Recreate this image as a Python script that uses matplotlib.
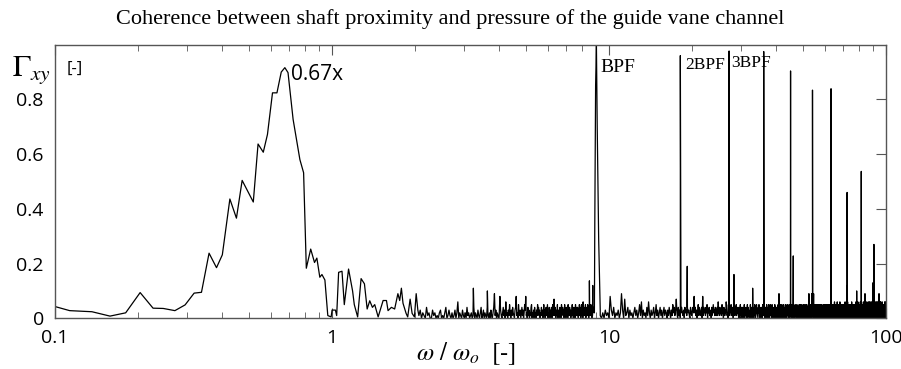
import numpy as np
import matplotlib
matplotlib.use('Agg')
import matplotlib.pyplot as plt

plt.rcParams['mathtext.fontset'] = 'stix'

# low frequency part, read point by point (w/w0, coherence)
low_w = [0.100, 0.113, 0.136, 0.158, 0.180, 0.203, 0.226, 0.246, 0.271, 0.295,
         0.318, 0.338, 0.360, 0.383, 0.402, 0.428, 0.452, 0.474, 0.520, 0.541,
         0.565, 0.585, 0.610, 0.633, 0.656, 0.676, 0.694, 0.724, 0.766, 0.790,
         0.808, 0.838, 0.865, 0.882, 0.904, 0.920, 0.943, 0.966, 0.993, 1.001,
         1.029, 1.040, 1.057, 1.087, 1.108, 1.148, 1.187, 1.204, 1.238, 1.274,
         1.310, 1.340, 1.369, 1.400, 1.427, 1.468, 1.530, 1.573, 1.594, 1.639,
         1.684, 1.730, 1.756, 1.781, 1.805, 1.852, 1.877, 1.915, 1.947, 1.985,
         2.014, 2.042]
low_g = [0.043, 0.028, 0.024, 0.008, 0.020, 0.094, 0.037, 0.036, 0.028, 0.049,
         0.092, 0.095, 0.238, 0.185, 0.232, 0.436, 0.366, 0.504, 0.425, 0.637,
         0.607, 0.672, 0.824, 0.824, 0.900, 0.916, 0.898, 0.727, 0.580, 0.532,
         0.183, 0.253, 0.204, 0.220, 0.150, 0.160, 0.140, 0.010, 0.005, 0.030,
         0.030, 0.010, 0.168, 0.172, 0.050, 0.180, 0.100, 0.050, 0.005, 0.145,
         0.126, 0.034, 0.064, 0.040, 0.050, 0.005, 0.065, 0.065, 0.028, 0.040,
         0.034, 0.090, 0.065, 0.110, 0.055, 0.018, 0.005, 0.070, 0.018, 0.005,
         0.090, 0.030]

# broadband floor, one digit per bin = coherence in hundredths
floor_a_start, floor_a_step = 2.06, 0.0225
floor_a = ("13021041200312010230102401310201302602103102041201"
           "20140210310240130210410203102491302102831024130612"
           "03152031421034812052130241302538120413021450213042"
           "20315241302141302513024135021420314025137214032150"
           "31204130522413025130421305132413021351402413052134"
           "14203152430251430621324150241325130423153142051324")
floor_b_start, floor_b_step = 9.3, 0.1
floor_b = ("10203120831402130293071240312024130251603120416203"
           "12402513024130241320314203152413720413024213042314"
           "23104213428241302514312408142314250324132041352314"
           "31241624132415230421326412053214253142032314251324"
           "30410521402403150314130504231025031405320415301253"
           "21042530413024105214250142035210405130253142051403"
           "24035140324103150493140530415024035143023501402514"
           "24015041353104250142503140251424035102314105230452"
           "30425314042501432504320513041325109340153405104925"
           "31405920352403504351405310253410524035143405130243"
           "25041023534105243502530415042531025302414052403523"
           "24051405361504350413405362410535041035262405340535"
           "43051035242503150436314053405352036150434052403504"
           "35043504164053102535240520315253025360413504150426"
           "40535041532405263504530240535240505362413504253902"
           "52035360453504150426405250263520536041535302635043"
           "40536043543506203536240530236453025360453504635203"
           "49052405362405605343520453604535042035344052506243"
           "52036254")

# blade passing frequency and its harmonics
bpf_w = [8.86, 8.89, 8.95, 9.01, 9.07, 9.18, 9.30]
bpf_g = [0.02, 0.35, 0.85, 1.00, 0.70, 0.29, 0.03]
harm_w = [18.1, 27.15, 36.2, 45.25, 54.3, 63.35, 72.4, 81.45, 90.5]
harm_g = [0.960, 0.977, 0.975, 0.904, 0.834, 0.839, 0.460, 0.537, 0.270]

# other isolated spikes
spike_w = [3.24, 3.64, 8.50, 8.74, 19.17, 28.27, 33.02, 46.28, 72.55, 78.4, 89.8]
spike_g = [0.110, 0.100, 0.137, 0.120, 0.190, 0.160, 0.110, 0.228, 0.120, 0.100, 0.130]

wa = floor_a_start + floor_a_step * np.arange(len(floor_a))
ga = np.array([int(c) for c in floor_a]) * 0.01
wb = floor_b_start + floor_b_step * np.arange(len(floor_b))
gb = np.array([int(c) for c in floor_b]) * 0.01

w = np.concatenate([low_w, wa, bpf_w, wb, harm_w, spike_w])
g = np.concatenate([low_g, ga, bpf_g, gb, harm_g, spike_g])
order = np.argsort(w, kind='stable')
w, g = w[order], g[order]

fig = plt.figure(figsize=(9.01, 3.69), dpi=100)
ax = fig.add_axes([0.0610, 0.1374, 0.9223, 0.7415])
ax.plot(w, g, color='black', linewidth=0.9)

ax.set_xscale('log')
ax.set_xlim(0.1, 100)
ax.set_ylim(0, 1.0)
ax.set_xticks([0.1, 1, 10, 100])
ax.set_xticklabels(['0.1', '1', '10', '100'])
ax.set_yticks([0, 0.2, 0.4, 0.6, 0.8])
ax.set_yticklabels(['0', '0.2', '0.4', '0.6', '0.8'])

tick_font = 'Open Sans'
for lab in ax.get_xticklabels() + ax.get_yticklabels():
    lab.set_fontfamily(tick_font)
    lab.set_fontsize(14)

ax.tick_params(axis='x', which='both', direction='in', top=True, bottom=True,
               color='#555555', pad=8)
ax.tick_params(axis='x', which='major', length=7)
ax.tick_params(axis='x', which='minor', length=4)
ax.tick_params(axis='y', which='both', direction='in', left=False, right=True,
               labelleft=True, length=7, color='#555555', pad=8)
for s in ax.spines.values():
    s.set_color('#555555')
    s.set_linewidth(1.0)

# labels
fig.text(0.5, 1 - 19 / 369, 'Coherence between shaft proximity and pressure of the guide vane channel',
         ha='center', va='center', fontfamily='Liberation Serif', fontsize=16)
fig.text(12 / 901, 1 - 76 / 369, r'$\Gamma_{xy}$', ha='left', va='baseline', fontsize=22)
ax.text(0.014, 0.911, '[-]', transform=ax.transAxes, ha='left', va='center',
        fontfamily=tick_font, fontsize=12)
fig.text(466 / 901, 1 - 354 / 369, r'$\omega\ /\ \omega_o\ \ \mathrm{[\text{-}]}$', ha='center', va='center',
         fontsize=18)

ax.text(0.71, 0.89, '0.67x', ha='left', va='center', fontfamily=tick_font, fontsize=15)
ax.text(9.28, 0.917, 'BPF', ha='left', va='center', fontfamily='Liberation Serif', fontsize=14)
ax.text(18.86, 0.924, '2BPF', ha='left', va='center', fontfamily='Liberation Serif', fontsize=12.5)
ax.text(27.67, 0.932, '3BPF', ha='left', va='center', fontfamily='Liberation Serif', fontsize=12.5)

fig.savefig('out.png', dpi=100)
